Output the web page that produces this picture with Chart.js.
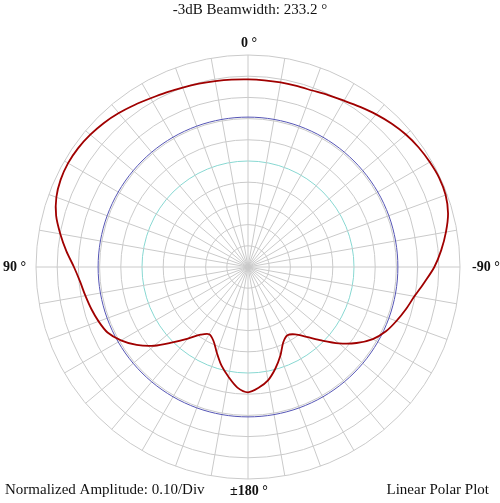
<!DOCTYPE html>
<html>
<head>
<meta charset="utf-8">
<script src="https://cdn.jsdelivr.net/npm/chart.js@4/dist/chart.umd.min.js"></script>
<style>
  html, body { margin: 0; padding: 0; background: #fff; }
  #wrap { position: relative; width: 500px; height: 503px; }
</style>
</head>
<body>
<div id="wrap"><canvas id="polarChart"></canvas></div>
<script>
// reference angles (deg, + = left), in the clockwise order the radar scale uses
const angles = [
  0, -5, -10, -15, -20, -25, -30, -35, -40, -45, -50, -55, -60, -65, -70, -75, -80, -85,
  -90, -95, -100, -105, -110, -115, -120, -125, -130, -135, -140, -145, -150, -155, -160, -165, -170, -175,
  180, 175, 170, 165, 160, 155, 150, 145, 140, 135, 130, 125, 120, 115, 110, 105, 100, 95,
  90, 85, 80, 75, 70, 65, 60, 55, 50, 45, 40, 35, 30, 25, 20, 15, 10, 5
];

// normalized amplitude
const amplitude = [
  0.885, 0.884, 0.884, 0.884, 0.886, 0.895, 0.906, 0.922, 0.940, 0.957, 0.972, 0.983, 0.990, 0.995, 0.992, 0.977, 0.948, 0.915,
  0.879, 0.835, 0.797, 0.771, 0.745, 0.718, 0.680, 0.625, 0.560, 0.490, 0.430, 0.388, 0.372, 0.393, 0.446, 0.497, 0.543, 0.572,
  0.591, 0.571, 0.527, 0.482, 0.430, 0.385, 0.366, 0.390, 0.441, 0.503, 0.578, 0.641, 0.692, 0.731, 0.750, 0.765, 0.779, 0.795,
  0.821, 0.860, 0.899, 0.937, 0.962, 0.975, 0.980, 0.978, 0.971, 0.961, 0.948, 0.933, 0.919, 0.909, 0.901, 0.895, 0.890, 0.887
];

const halfPowerLevel = 0.707;   // -3 dB
const quarterPowerLevel = 0.5;  // -6 dB ring
const labeledAngles = [0, -90, 180, 90];
const angleText = ['0 °', '-90 °', '±180 °', '90 °'];

const titleText = '-3dB Beamwidth: 233.2 °';
const footLeft = 'Normalized Amplitude: 0.10/Div';
const footRight = 'Linear Polar Plot';

const textLabels = {
  id: 'textLabels',
  afterDraw(chart) {
    const ctx = chart.ctx;
    const r = chart.scales.r;
    ctx.save();
    ctx.fillStyle = '#111';

    ctx.font = '15px "Liberation Serif"';
    ctx.textBaseline = 'alphabetic';
    ctx.textAlign = 'center';
    ctx.fillText(titleText, 250, 14);
    ctx.textAlign = 'left';
    ctx.fillText(footLeft, 5, 494);
    ctx.textAlign = 'right';
    ctx.fillText(footRight, 489, 494);

    ctx.font = 'bold 14px "Liberation Serif"';
    labeledAngles.forEach((a, k) => {
      const i = angles.indexOf(a);
      const p = r.getPointPositionForValue(i, 1);
      if (a === 0) {
        ctx.textAlign = 'center'; ctx.textBaseline = 'alphabetic';
        ctx.fillText(angleText[k], p.x + 1, p.y - 8);
      } else if (a === 180) {
        ctx.textAlign = 'center'; ctx.textBaseline = 'alphabetic';
        ctx.fillText(angleText[k], p.x + 1, p.y + 16);
      } else if (a === 90) {
        ctx.textAlign = 'right'; ctx.textBaseline = 'middle';
        ctx.fillText(angleText[k], p.x - 10, p.y);
      } else {
        ctx.textAlign = 'left'; ctx.textBaseline = 'middle';
        ctx.fillText(angleText[k], p.x + 12, p.y);
      }
    });
    ctx.restore();
  }
};

new Chart(document.getElementById('polarChart'), {
  type: 'radar',
  data: {
    labels: angles,
    datasets: [
      {
        data: amplitude,
        borderColor: '#a00000',
        borderWidth: 1.8,
        fill: false,
        pointRadius: 0,
        tension: 0.3,
        order: 0
      },
      {
        data: angles.map(() => halfPowerLevel),
        borderColor: '#5555b5',
        borderWidth: 1,
        fill: false,
        pointRadius: 0,
        tension: 0.35,
        order: 1
      }
    ]
  },
  options: {
    responsive: true,
    maintainAspectRatio: false,
    animation: false,
    layout: { padding: { left: 36, right: 40, top: 55, bottom: 24 } },
    plugins: {
      legend: { display: false },
      title: { display: false },
      tooltip: { enabled: false }
    },
    scales: {
      r: {
        min: 0,
        max: 1,
        ticks: { display: false, stepSize: 0.1 },
        pointLabels: { display: false },
        grid: {
          circular: true,
          lineWidth: 1,
          color: (c) => Math.abs(c.tick.value - quarterPowerLevel) < 1e-6 ? '#88d8d2' : '#cacaca'
        },
        angleLines: {
          color: '#cacaca',
          lineWidth: (c) => c.index % 2 === 0 ? 1 : 0
        }
      }
    }
  },
  plugins: [textLabels]
});
</script>
</body>
</html>
